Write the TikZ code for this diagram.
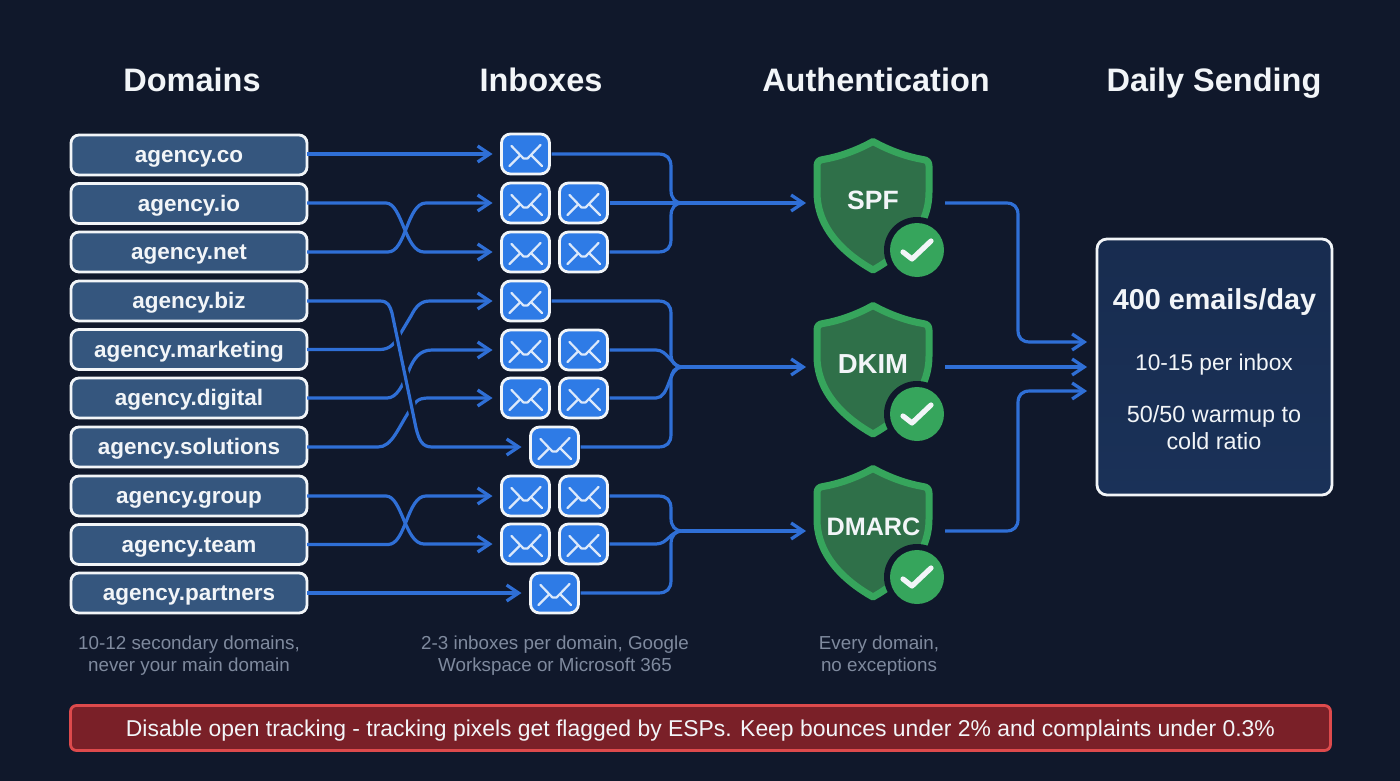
\documentclass[tikz,border=0pt]{standalone}
\usepackage{fontspec}
\setmainfont{Liberation Sans}
\usetikzlibrary{arrows.meta}
\definecolor{bgc}{HTML}{10182B}
\definecolor{flowc}{HTML}{2F6FD6}
\definecolor{domc}{HTML}{35567E}
\definecolor{inboxc}{HTML}{2E7BE6}
\definecolor{envc}{HTML}{DCE9FB}
\definecolor{whitec}{HTML}{F2F5F8}
\definecolor{notec}{HTML}{7F8A9E}
\definecolor{shieldc}{HTML}{36A55C}
\definecolor{shieldin}{HTML}{2F7049}
\definecolor{barc}{HTML}{7A2028}
\definecolor{barl}{HTML}{DD4A4C}
\definecolor{dailyc}{HTML}{1A3158}
\tikzset{
  x=1pt,y=-1pt,
  flow/.style={draw=flowc,line width=3.2pt,line join=round},
  arrowed/.style={flow,-{Straight Barb[length=12pt,width=16pt,line width=3.2pt]},shorten >=9pt},
  halo/.style={draw=bgc,line width=8.5pt},
  titlet/.style={font=\fontsize{32.5}{38}\selectfont\bfseries,text=whitec,inner sep=0pt,anchor=base},
  domainbox/.style={draw=whitec,line width=2.8pt,rounded corners=8pt,fill=domc,minimum width=236pt,minimum height=40pt,inner sep=0pt,outer sep=0pt,font=\fontsize{22.5}{26}\selectfont\bfseries,text=whitec,text height=15pt,text depth=0pt},
  inboxbox/.style={draw=whitec,line width=2.8pt,rounded corners=9pt,fill=inboxc,minimum width=48pt,minimum height=40pt,inner sep=0pt,outer sep=0pt},
  envline/.style={draw=envc,line width=2.2pt,line cap=round,line join=round},
  notet/.style={font=\fontsize{18.8}{22}\selectfont,text=notec,align=center,inner sep=0pt},
  shieldlabel/.style={text=whitec,inner sep=0pt},
  anchorbox/.style={minimum width=120pt,minimum height=10pt,inner sep=0pt,outer sep=0pt},
  dailyt/.style={text=whitec,align=center,inner sep=0pt}
}
\newcommand{\domainnode}[3]{\node[domainbox] (#1) at (189,#2) {#3};}
\newcommand{\inboxnode}[3]{%
  \node[inboxbox] (#1) at (#2,#3) {};
  \draw[envline] ([shift={(-14,-8)}]#1.center) -- ([shift={(-2,4.5)}]#1.center) -- ([shift={(2,4.5)}]#1.center) -- ([shift={(15,-9)}]#1.center);
  \draw[envline] ([shift={(-16,12)}]#1.center) -- ([shift={(-5.5,1.5)}]#1.center);
  \draw[envline] ([shift={(16.5,12)}]#1.center) -- ([shift={(6,1.5)}]#1.center);
}
% name, y shift, y of centre line
\newcommand{\shieldnode}[3]{%
  \begin{scope}[yshift=-#2pt]
    \draw[draw=shieldc,line width=7pt,line join=round,fill=shieldin]
      (873,141.5) .. controls (890,151) and (908,157) .. (923,159.5)
      .. controls (927,160) and (929,162) .. (929,166) -- (929,192)
      .. controls (929,226) and (905,252) .. (873,270)
      .. controls (841,252) and (817,226) .. (817,192) -- (817,166)
      .. controls (817,162) and (819,160) .. (823,159.5)
      .. controls (838,157) and (856,151) .. (873,141.5) -- cycle;
    \fill[bgc] (917,250) circle (33);
    \fill[shieldc] (917,250) circle (27);
    \draw[draw=whitec,line width=5.2pt,line cap=round,line join=round] (903,252) -- (912,259) -- (931,241);
  \end{scope}
  \node[anchorbox] (#1) at (875,#3) {};
}
\begin{document}
\begin{tikzpicture}
\fill[bgc] (0,0) rectangle (1400,781);
\useasboundingbox (0,0) rectangle (1400,781);

% titles
\node[titlet] (t1) at (192,92) {Domains};
\node[titlet] (t2) at (541,92) {Inboxes};
\node[titlet] (t3) at (876,92) {Authentication};
\node[titlet] (t4) at (1214,92) {Daily Sending};

% domains
\domainnode{d1}{155}{agency.co}
\domainnode{d2}{203.5}{agency.io}
\domainnode{d3}{252}{agency.net}
\domainnode{d4}{301}{agency.biz}
\domainnode{d5}{349.5}{agency.marketing}
\domainnode{d6}{398}{agency.digital}
\domainnode{d7}{447}{agency.solutions}
\domainnode{d8}{496}{agency.group}
\domainnode{d9}{544.5}{agency.team}
\domainnode{d10}{593}{agency.partners}

% inboxes
\inboxnode{a1}{525.5}{154}
\inboxnode{a2}{525.5}{203}
\inboxnode{b2}{583.5}{203}
\inboxnode{a3}{525.5}{252}
\inboxnode{b3}{583.5}{252}
\inboxnode{a4}{525.5}{301}
\inboxnode{a5}{525.5}{350}
\inboxnode{b5}{583.5}{350}
\inboxnode{a6}{525.5}{398}
\inboxnode{b6}{583.5}{398}
\inboxnode{a7}{554.5}{447}
\inboxnode{a8}{525.5}{496}
\inboxnode{b8}{583.5}{496}
\inboxnode{a9}{525.5}{544}
\inboxnode{b9}{583.5}{544}
\inboxnode{a10}{554.5}{593}

% shields
\shieldnode{spf}{0}{203}
\shieldnode{dkim}{164}{367}
\shieldnode{dmarc}{327}{531}
\node[shieldlabel,font=\fontsize{26.5}{32}\selectfont\bfseries] (spft) at (873,200) {SPF};
\node[shieldlabel,font=\fontsize{27.5}{32}\selectfont\bfseries] (dkimt) at (873,364) {DKIM};
\node[shieldlabel,font=\fontsize{25.2}{32}\selectfont\bfseries] (dmarct) at (873.5,527) {DMARC};

% daily box
\node[draw=whitec,line width=2.8pt,rounded corners=10pt,top color=dailyc!90!black,bottom color=dailyc,minimum width=235pt,minimum height=256pt,inner sep=0pt,outer sep=0pt] (daily) at (1214.5,367) {};
\node[dailyt,font=\fontsize{28.8}{33}\selectfont\bfseries,anchor=base] (dt1) at (1214.5,309) {400 emails/day};
\node[dailyt,font=\fontsize{22.7}{26}\selectfont,anchor=base] (dt2) at (1214,370) {10-15 per inbox};
\node[dailyt,font=\fontsize{23.4}{26.5}\selectfont] (dt3) at (1214,427.5) {50/50 warmup to\\cold ratio};

% notes
\node[notet] (n1) at (189,656) {10-12 secondary domains,\\never your main domain};
\node[notet] (n2) at (555,656) {2-3 inboxes per domain, Google\\Workspace or Microsoft 365};
\node[notet] (n3) at (879,656) {Every domain,\\no exceptions};

% warning bar
\node[draw=barl,line width=2.8pt,rounded corners=6pt,fill=barc,minimum width=1260pt,minimum height=45pt,inner sep=0pt,outer sep=0pt,font=\fontsize{22.9}{27}\selectfont,text=whitec,text height=16pt,text depth=0pt] (bar) at (700.5,728) {Disable open tracking - tracking pixels get flagged by ESPs. Keep bounces under 2\% and complaints under 0.3\%};

% domain to inbox connectors
\draw[arrowed] (d1.east |- a1.west) -- (a1.west);
\draw[arrowed] (d2.east |- a2.west) -- (386,203) .. controls (402,203) and (405,252) .. (424,252) -- (a3.west);
\draw[arrowed] (d3.east |- a3.west) -- (388,252) .. controls (406,252) and (407,203) .. (426,203) -- (a2.west);
\draw[arrowed] (d5.east) -- (380,349.5) .. controls (390,349.5) and (395,343) .. (399,336) -- (411,316) .. controls (416,306) and (421,301) .. (430,301) -- (a4.west);
\draw[arrowed] (d6.east) -- (387,398) .. controls (397,398) and (403,385) .. (409,370) .. controls (414,358) and (420,350) .. (432,350) -- (a5.west);
\draw[arrowed] (d7.east) -- (378,447) .. controls (392,447) and (398,428) .. (410,410) -- (416,402) .. controls (419,399) and (422,398) .. (430,398) -- (a6.west);
\draw[halo,line cap=butt] (394.5,325) -- (414,418);
\draw[arrowed] (d4.east) -- (380,301) .. controls (388,301) and (390,306) .. (392,313) -- (416,428) .. controls (419,440) and (422,447) .. (432,447) -- (a7.west);
\draw[arrowed] (d8.east) -- (386,496) .. controls (402,496) and (405,544) .. (424,544) -- (a9.west);
\draw[arrowed] (d9.east) -- (388,544.5) .. controls (406,544.5) and (407,496) .. (426,496) -- (a8.west);
\draw[arrowed] (d10.east) -- (a10.west);

% inbox to authentication connectors
\coordinate (j1) at (682,203);
\coordinate (j2) at (682,367);
\coordinate (j3) at (682,531);
\draw[flow,shorten <=2pt] (a1.east) -- (658,154) .. controls (667,154) and (671,158) .. (671,167) -- (671,190) .. controls (671,198) and (675,203) .. (j1);
\draw[flow,shorten <=2pt] (b3.east) -- (658,252) .. controls (667,252) and (671,248) .. (671,239) -- (671,216) .. controls (671,208) and (675,203) .. (j1);
\draw[arrowed,shorten <=2pt] (b2.east) -- (spf.west);
\draw[flow,shorten <=2pt] (a4.east) -- (658,301) .. controls (667,301) and (671,305) .. (671,314) -- (671,354) .. controls (671,362) and (675,367) .. (j2);
\draw[flow,shorten <=2pt] (b5.east) -- (656,350) .. controls (668,350) and (672,367) .. (j2);
\draw[flow,shorten <=2pt] (b6.east) -- (656,398) .. controls (670,398) and (668,367) .. (j2);
\draw[flow,shorten <=2pt] (a7.east) -- (658,447) .. controls (667,447) and (671,443) .. (671,434) -- (671,380) .. controls (671,372) and (675,367) .. (j2);
\draw[arrowed] (j2) -- (dkim.west);
\draw[flow,shorten <=2pt] (b8.east) -- (658,496) .. controls (667,496) and (671,500) .. (671,509) -- (671,518) .. controls (671,526) and (675,531) .. (j3);
\draw[flow,shorten <=2pt] (b9.east) -- (656,544) .. controls (668,544) and (670,531) .. (j3);
\draw[flow,shorten <=2pt] (a10.east) -- (658,593) .. controls (667,593) and (671,589) .. (671,580) -- (671,544) .. controls (671,536) and (675,531) .. (j3);
\draw[arrowed] (j3) -- (dmarc.west);

% authentication to daily
\coordinate (s1) at (945,203);
\coordinate (s2) at (945,367);
\coordinate (s3) at (945,531);
\coordinate (e1) at (1096,342);
\coordinate (e2) at (1096,367);
\coordinate (e3) at (1096,391);
\draw[arrowed] (s1) -- (1006,203) .. controls (1014,203) and (1018,207) .. (1018,215) -- (1018,330) .. controls (1018,338) and (1022,342) .. (1030,342) -- (e1);
\draw[arrowed] (s2) -- (e2);
\draw[arrowed] (s3) -- (1006,531) .. controls (1014,531) and (1018,527) .. (1018,519) -- (1018,403) .. controls (1018,395) and (1022,391) .. (1030,391) -- (e3);
\end{tikzpicture}
\end{document}
